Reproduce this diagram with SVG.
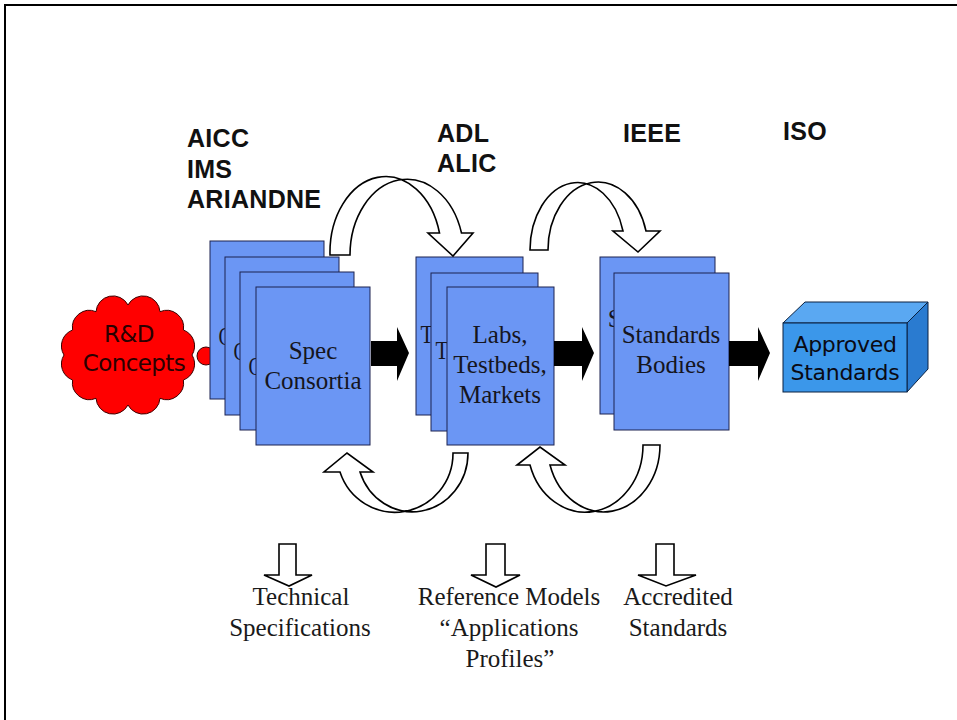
<svg xmlns="http://www.w3.org/2000/svg" width="957" height="720" viewBox="0 0 957 720">
<style>
.sheet{fill:#6b96f4;stroke:#1c2350;stroke-width:1}
.bt{font-family:"Liberation Serif","Times New Roman",serif;font-size:25px;fill:#151520;text-anchor:middle}
.bs{font-family:"Liberation Serif","Times New Roman",serif;font-size:25px;fill:#151520}
.lbl{font-family:"Liberation Sans",Arial,sans-serif;font-size:25px;font-weight:bold;fill:#111;letter-spacing:0.3px}
.out{font-family:"Liberation Serif","Times New Roman",serif;font-size:25px;fill:#1a1a1a;text-anchor:middle}
.sans{font-family:"DejaVu Sans",Verdana,sans-serif;text-anchor:middle}
.hollow{fill:#fff;stroke:#000;stroke-width:1.6;stroke-linejoin:miter}
.solid{fill:#000;stroke:none}
</style>
<rect x="0" y="0" width="957" height="720" fill="#fff"/>
<path d="M5,720 V5 H957" fill="none" stroke="#000" stroke-width="2"/>

<g id="labels">
<text class="lbl" x="187" y="147">AICC</text>
<text class="lbl" x="187" y="178">IMS</text>
<text class="lbl" x="187" y="208">ARIANDNE</text>
<text class="lbl" x="437" y="142">ADL</text>
<text class="lbl" x="437" y="172">ALIC</text>
<text class="lbl" x="623" y="142">IEEE</text>
<text class="lbl" x="783" y="140">ISO</text>
</g>

<g id="rd-concepts">
<circle cx="206" cy="356" r="9" fill="#ff0000" stroke="#3a0000" stroke-width="1"/>
<path d="M192,355 A17,17 0 0 1 183.4,380 A17,17 0 0 1 160,398.3 A17,17 0 0 1 128,405 A17,17 0 0 1 96,398.3 A17,17 0 0 1 72.6,380 A17,17 0 0 1 64,355 A17,17 0 0 1 72.6,330 A17,17 0 0 1 96,311.7 A17,17 0 0 1 128,305 A17,17 0 0 1 160,311.7 A17,17 0 0 1 183.4,330 A17,17 0 0 1 192,355 Z" fill="#ff0000" stroke="#3a0000" stroke-width="1"/>
<text class="sans" x="129" y="342" font-size="23" letter-spacing="-0.6" fill="#2a0000">R&amp;D</text>
<text class="sans" x="134" y="371" font-size="23" letter-spacing="-0.6" fill="#2a0000">Concepts</text>
</g>

<g id="spec-consortia">
<rect class="sheet" x="210" y="241" width="114" height="158"/>
<text class="bs" x="218.4" y="345" textLength="13" lengthAdjust="spacingAndGlyphs">C</text>
<rect class="sheet" x="225" y="257" width="114" height="158"/>
<text class="bs" x="233.4" y="360" textLength="13" lengthAdjust="spacingAndGlyphs">C</text>
<rect class="sheet" x="240" y="272" width="114" height="158"/>
<text class="bs" x="248.4" y="375" textLength="13" lengthAdjust="spacingAndGlyphs">C</text>
<rect class="sheet" x="256" y="287" width="114" height="158"/>
<text class="bt" x="313" y="359">Spec</text><text class="bt" x="313" y="389">Consortia</text>
</g>

<g id="labs-testbeds-markets">
<rect class="sheet" x="416" y="257" width="107" height="158"/>
<text class="bs" x="420.5" y="343" textLength="13" lengthAdjust="spacingAndGlyphs">T</text>
<rect class="sheet" x="431" y="273" width="107" height="158"/>
<text class="bs" x="435.5" y="359" textLength="13" lengthAdjust="spacingAndGlyphs">T</text>
<rect class="sheet" x="447" y="287" width="107" height="158"/>
<text class="bt" x="500" y="343">Labs,</text><text class="bt" x="500" y="373">Testbeds,</text><text class="bt" x="500" y="403">Markets</text>
</g>

<g id="standards-bodies">
<rect class="sheet" x="600" y="257" width="115" height="157"/>
<text class="bs" x="607.7" y="327">S</text>
<rect class="sheet" x="614" y="273" width="115" height="157"/>
<text class="bt" x="671" y="343">Standards</text><text class="bt" x="671" y="373">Bodies</text>
</g>

<g id="approved-standards">
<polygon points="783,323 805,302 928,302 907,323" fill="#5aa8f2" stroke="#0b2140" stroke-width="1"/>
<polygon points="907,323 928,302 928,369 907,392" fill="#2a7bd0" stroke="#0b2140" stroke-width="1"/>
<rect x="783" y="323" width="124" height="69" fill="#3b97ea" stroke="#0b2140" stroke-width="1"/>
<text class="sans" x="845" y="352" font-size="22" letter-spacing="-0.3" fill="#0a0a14">Approved</text>
<text class="sans" x="845" y="380" font-size="22" letter-spacing="-0.3" fill="#0a0a14">Standards</text>
</g>

<g id="outputs">
<text class="out" x="301" y="605">Technical</text>
<text class="out" x="300" y="636">Specifications</text>
<text class="out" x="509" y="605">Reference Models</text>
<text class="out" x="509" y="636">“Applications</text>
<text class="out" x="510" y="667">Profiles”</text>
<text class="out" x="678" y="605">Accredited</text>
<text class="out" x="678" y="636">Standards</text>
</g>

<g id="connectors">
<polygon class="solid" points="371,341 397,341 397,327 409,353 397,381 397,366 371,366"/>
<polygon class="solid" points="554,341 582,341 582,327 594,353 582,381 582,366 554,366"/>
<polygon class="solid" points="729,341 758,341 758,327 770,353 758,381 758,366 729,366"/>

<path class="hollow" d="M330,255 A55.7,76 0 0 1 439.5,233 L428,233 L453,256 L473,233 L461.5,233 A57,76 0 0 0 350,255 Z"/>
<path class="hollow" d="M530,250 A47.5,68 0 0 1 623,231 L613,231 L638,252 L660,231 L646,231 A50,68 0 0 0 548,250 Z"/>

<path class="hollow" d="M468,453 A55.5,59 0 0 1 360,472 L373,472 L347,453 L324,472 L340,472 A58,59 0 0 0 453,453 Z"/>
<path class="hollow" d="M660,445 A56.3,67 0 0 1 550,465 L565,465 L540,447 L517,465 L530,465 A57.8,67 0 0 0 643,445 Z"/>

<polygon class="hollow" points="279,544 296,544 296,575 312,575 289,586 264,575 279,575"/>
<polygon class="hollow" points="486,544 505,544 505,575 520,575 496,587 471,575 486,575"/>
<polygon class="hollow" points="656,544 674,544 674,575 696,575 666,586 638,575 656,575"/>
</g>
</svg>
